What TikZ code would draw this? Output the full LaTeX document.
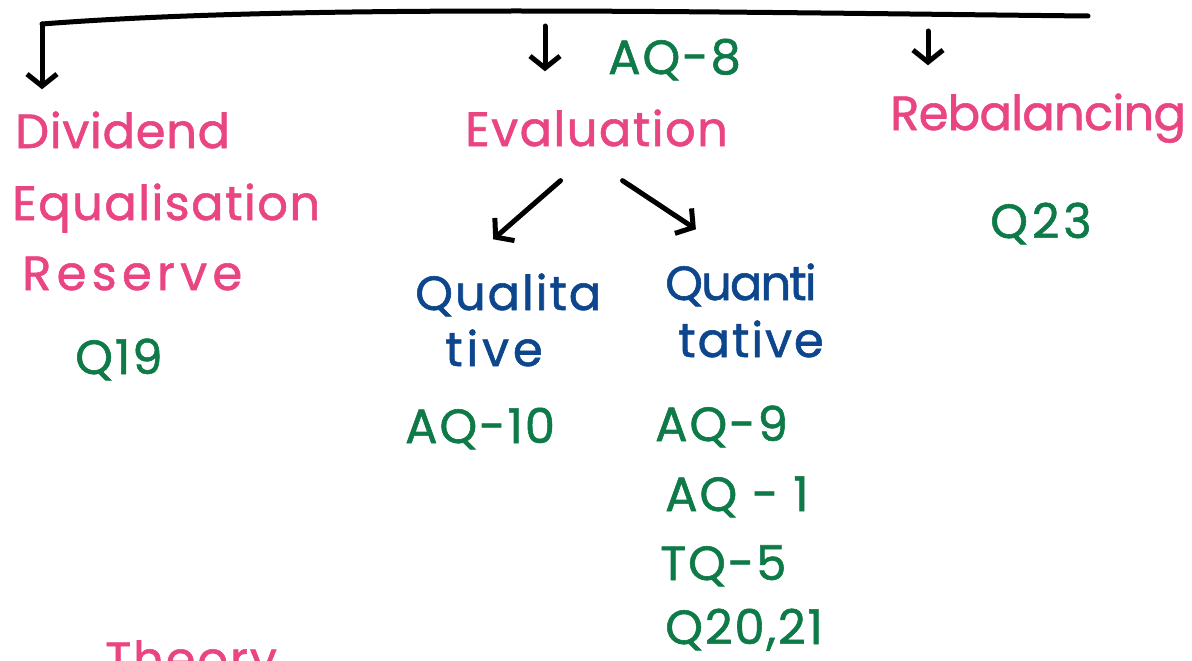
\documentclass[tikz,border=0pt]{standalone}
\usepackage{fontspec}
\setmainfont{Poppins}
\usetikzlibrary{arrows.meta,calc,positioning}
\definecolor{penpink}{HTML}{E94582}
\definecolor{pengreen}{HTML}{0E7A48}
\definecolor{penblue}{HTML}{0D468C}
\newfontfamily\handfont[LetterSpace=4,FakeBold=1.2]{Poppins}
\tikzstyle{hand}=[inner sep=0pt, anchor=base west, font=\handfont\fontsize{48}{52}\selectfont]
\tikzstyle{topic}=[hand, text=penpink]
\tikzstyle{ref}=[hand, text=pengreen]
\tikzstyle{kind}=[hand, text=penblue]
\tikzstyle{pen}=[draw, line width=5pt, line cap=round, line join=round]
\tikzstyle{penarrow}=[pen, -{Straight Barb[length=12pt,width=30pt]}]
\begin{document}
\begin{tikzpicture}[x=1pt,y=-1pt]
\useasboundingbox (0,0) rectangle (1192,661);
\clip (0,0) rectangle (1192,661);

    % the three topics
    \node[topic] (div) at (15,148) {\addfontfeature{LetterSpace=1.5}Dividend};
    \node[topic] (equ) at (12,220) {\addfontfeature{LetterSpace=3}Equalisation};
    \node[topic] (res) at (22,290) {\addfontfeature{LetterSpace=11}Reserve};
    \node[topic] (eval) at (465,146) {\addfontfeature{LetterSpace=3}Evaluation};
    \node[topic] (rebal) at (890,130) {\addfontfeature{LetterSpace=-1.5}Rebalancing};
    \node[topic] (theory) at (105,676) {Theory};

    % question references
    \node[ref] (qnineteen) at (75,374) {Q19};
    \node[ref] (aqeight) at (608,74) {AQ-8};
    \node[ref] (qtwentythree) at (990,238) {\addfontfeature{LetterSpace=8}Q23};
    \node[ref] (aqten) at (405,443) {AQ-10};
    \foreach \pos/\name/\label in {{(655,441)/aqnine/AQ-9}, {(665,511)/aqone/AQ - 1}, {(660,580)/tqfive/TQ-5}, {(665,644)/qtwenty/Q20,21}}
        \node[ref] (\name) at \pos {\label};

    % kinds of evaluation
    \node[kind] (qual) at (415,310) {Qualita};
    \node[kind] (qualb) at (445,366) {\addfontfeature{LetterSpace=8}tive};
    \node[kind] (quant) at (665,300) {\addfontfeature{LetterSpace=-4}Quanti};
    \node[kind] (quantb) at (678,357) {tative};

    % the bracket on top
    \coordinate (topL) at (42,24);
    \coordinate (topR) at (1088,16);
    \coordinate (dropM) at (545,26);
    \coordinate (dropR) at (928,31);
    \draw[pen] (topR) .. controls (700,12) and (300,4) .. (topL);
    \draw[penarrow] (topL) -- ([yshift=22pt]div.north -| topL);
    \draw[penarrow] (dropM) -- ([yshift=38pt]eval.north -| dropM);
    \draw[penarrow] (dropR) -- ([yshift=28pt]rebal.north -| dropR);

    % Evaluation splits in two
    \draw[penarrow] ($(eval.south)+(-36,34)$) -- ($(qual.north)+(-15,-34)$);
    \draw[penarrow] ($(eval.south)+(26,34)$) -- ($(quant.north)+(-45,-34)$);

\end{tikzpicture}
\end{document}
